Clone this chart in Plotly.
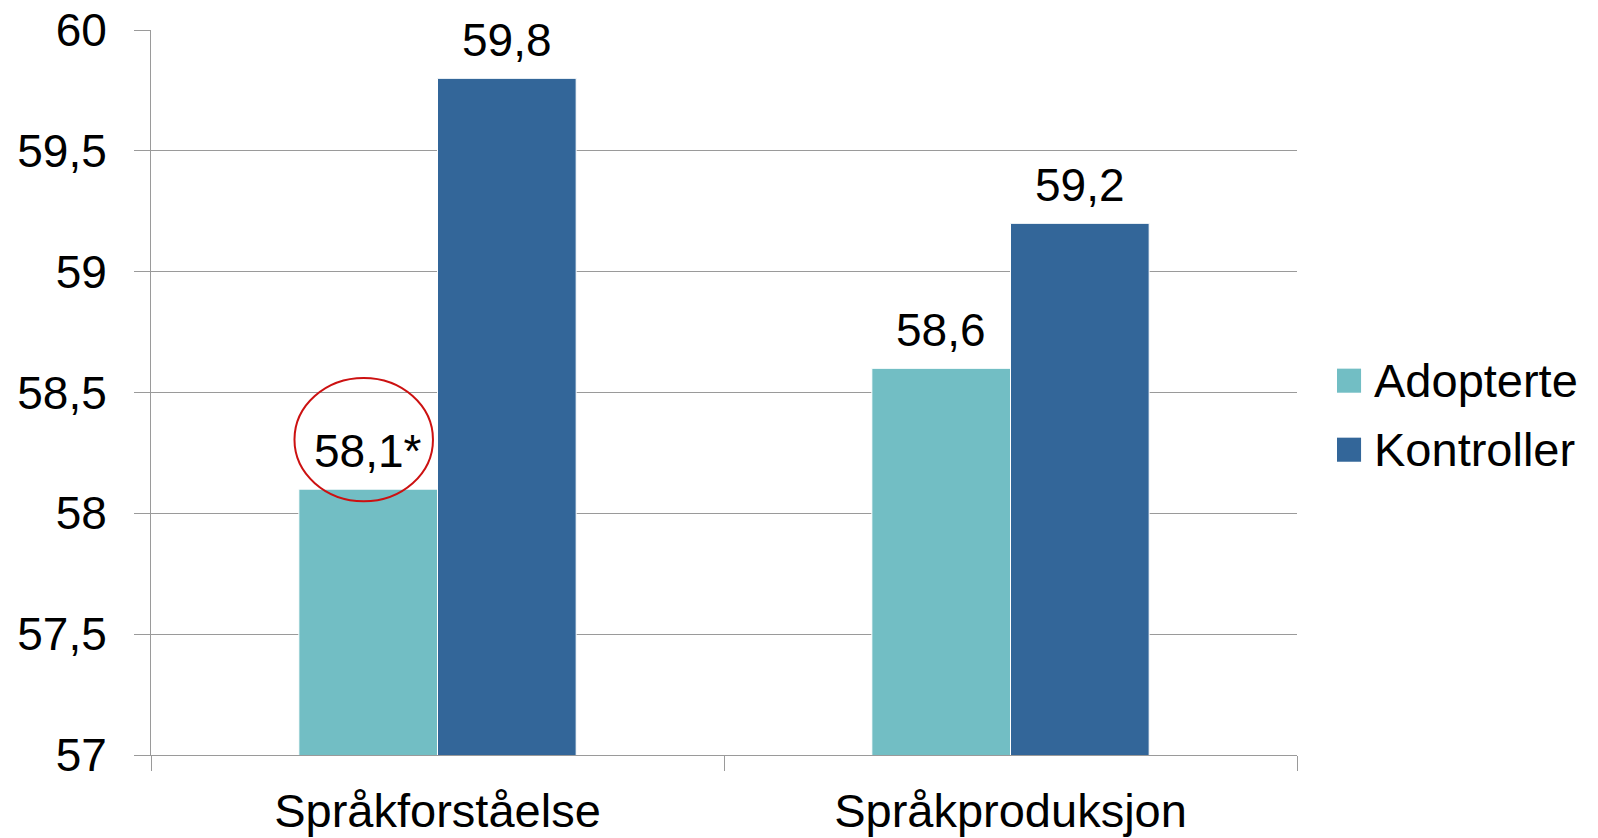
import plotly.graph_objects as go

# Language scores by group
categories = ["Språkforståelse", "Språkproduksjon"]
series_names = ["Adopterte", "Kontroller"]
adopterte = [58.1, 58.6]
kontroller = [59.8, 59.2]
adopterte_marks = ["*", ""]   # significance marker after the value
kontroller_marks = ["", ""]

y_tickvals = [57, 57.5, 58, 58.5, 59, 59.5, 60]
y_ticktext = ["57", "57,5", "58", "58,5", "59", "59,5", "60"]

colors = ["#72BEC4", "#336699"]
FONT = "Liberation Sans, Arial, sans-serif"
BARGAP = 0.516

def fmt(v, mark):
    return f"{v:.1f}".replace(".", ",") + mark

fig = go.Figure()
for name, vals, col in zip(series_names, [adopterte, kontroller], colors):
    fig.add_trace(go.Bar(
        name=name, x=categories, y=vals,
        marker=dict(color=col, line=dict(color="white", width=1)),
        showlegend=False,
    ))

# value labels above each bar
half = (1 - BARGAP) / 4  # offset of each bar centre from the category centre
annotations = []
for i in range(len(categories)):
    for vals, marks, off in [(adopterte, adopterte_marks, -half), (kontroller, kontroller_marks, half)]:
        annotations.append(dict(
            x=i + off, y=vals[i], xref="x", yref="y",
            text=fmt(vals[i], marks[i]), showarrow=False,
            yanchor="bottom", yshift=10,
            font=dict(family=FONT, size=46, color="black"),
        ))

# legend with large swatches
shapes = []
legend_rows = [(0.5163, colors[0], series_names[0]), (0.4211, colors[1], series_names[1])]
for yc, col, name in legend_rows:
    shapes.append(dict(type="rect", xref="paper", yref="paper",
                       x0=1.0349, x1=1.0559, y0=yc - 0.0166, y1=yc + 0.0166,
                       fillcolor=col, line=dict(width=0)))
    annotations.append(dict(x=1.0654, y=yc, xref="paper", yref="paper",
                            text=name, showarrow=False, xanchor="left", yanchor="middle",
                            font=dict(family=FONT, size=47, color="black")))

# red ring highlighting the significant difference
shapes.append(dict(type="circle", xref="x", yref="y",
                   x0=-0.2496, x1=-0.0079, y0=58.05, y1=58.56,
                   line=dict(color="#CC1111", width=2)))

axis_grey = "#9a9a9a"
fig.update_layout(
    width=1598, height=838,
    margin=dict(l=151, r=301, t=30, b=83),
    paper_bgcolor="white", plot_bgcolor="white",
    barmode="group", bargap=BARGAP, bargroupgap=0,
    font=dict(family=FONT, size=46, color="black"),
    annotations=annotations, shapes=shapes,
    xaxis=dict(
        automargin=False,
        showline=True, linecolor=axis_grey, linewidth=1,
        ticks="outside", tickson="boundaries", ticklen=15, tickcolor=axis_grey,
        showgrid=False, tickfont=dict(size=47), ticklabelstandoff=15,
    ),
    yaxis=dict(
        automargin=False,
        range=[57, 60], tickvals=y_tickvals, ticktext=y_ticktext,
        showline=True, linecolor=axis_grey, linewidth=1,
        ticks="outside", ticklen=16, tickcolor=axis_grey,
        showgrid=True, gridcolor=axis_grey, gridwidth=1,
        zeroline=False, ticklabelstandoff=18, tickfont=dict(size=46),
    ),
)

fig.write_html("out.html")
